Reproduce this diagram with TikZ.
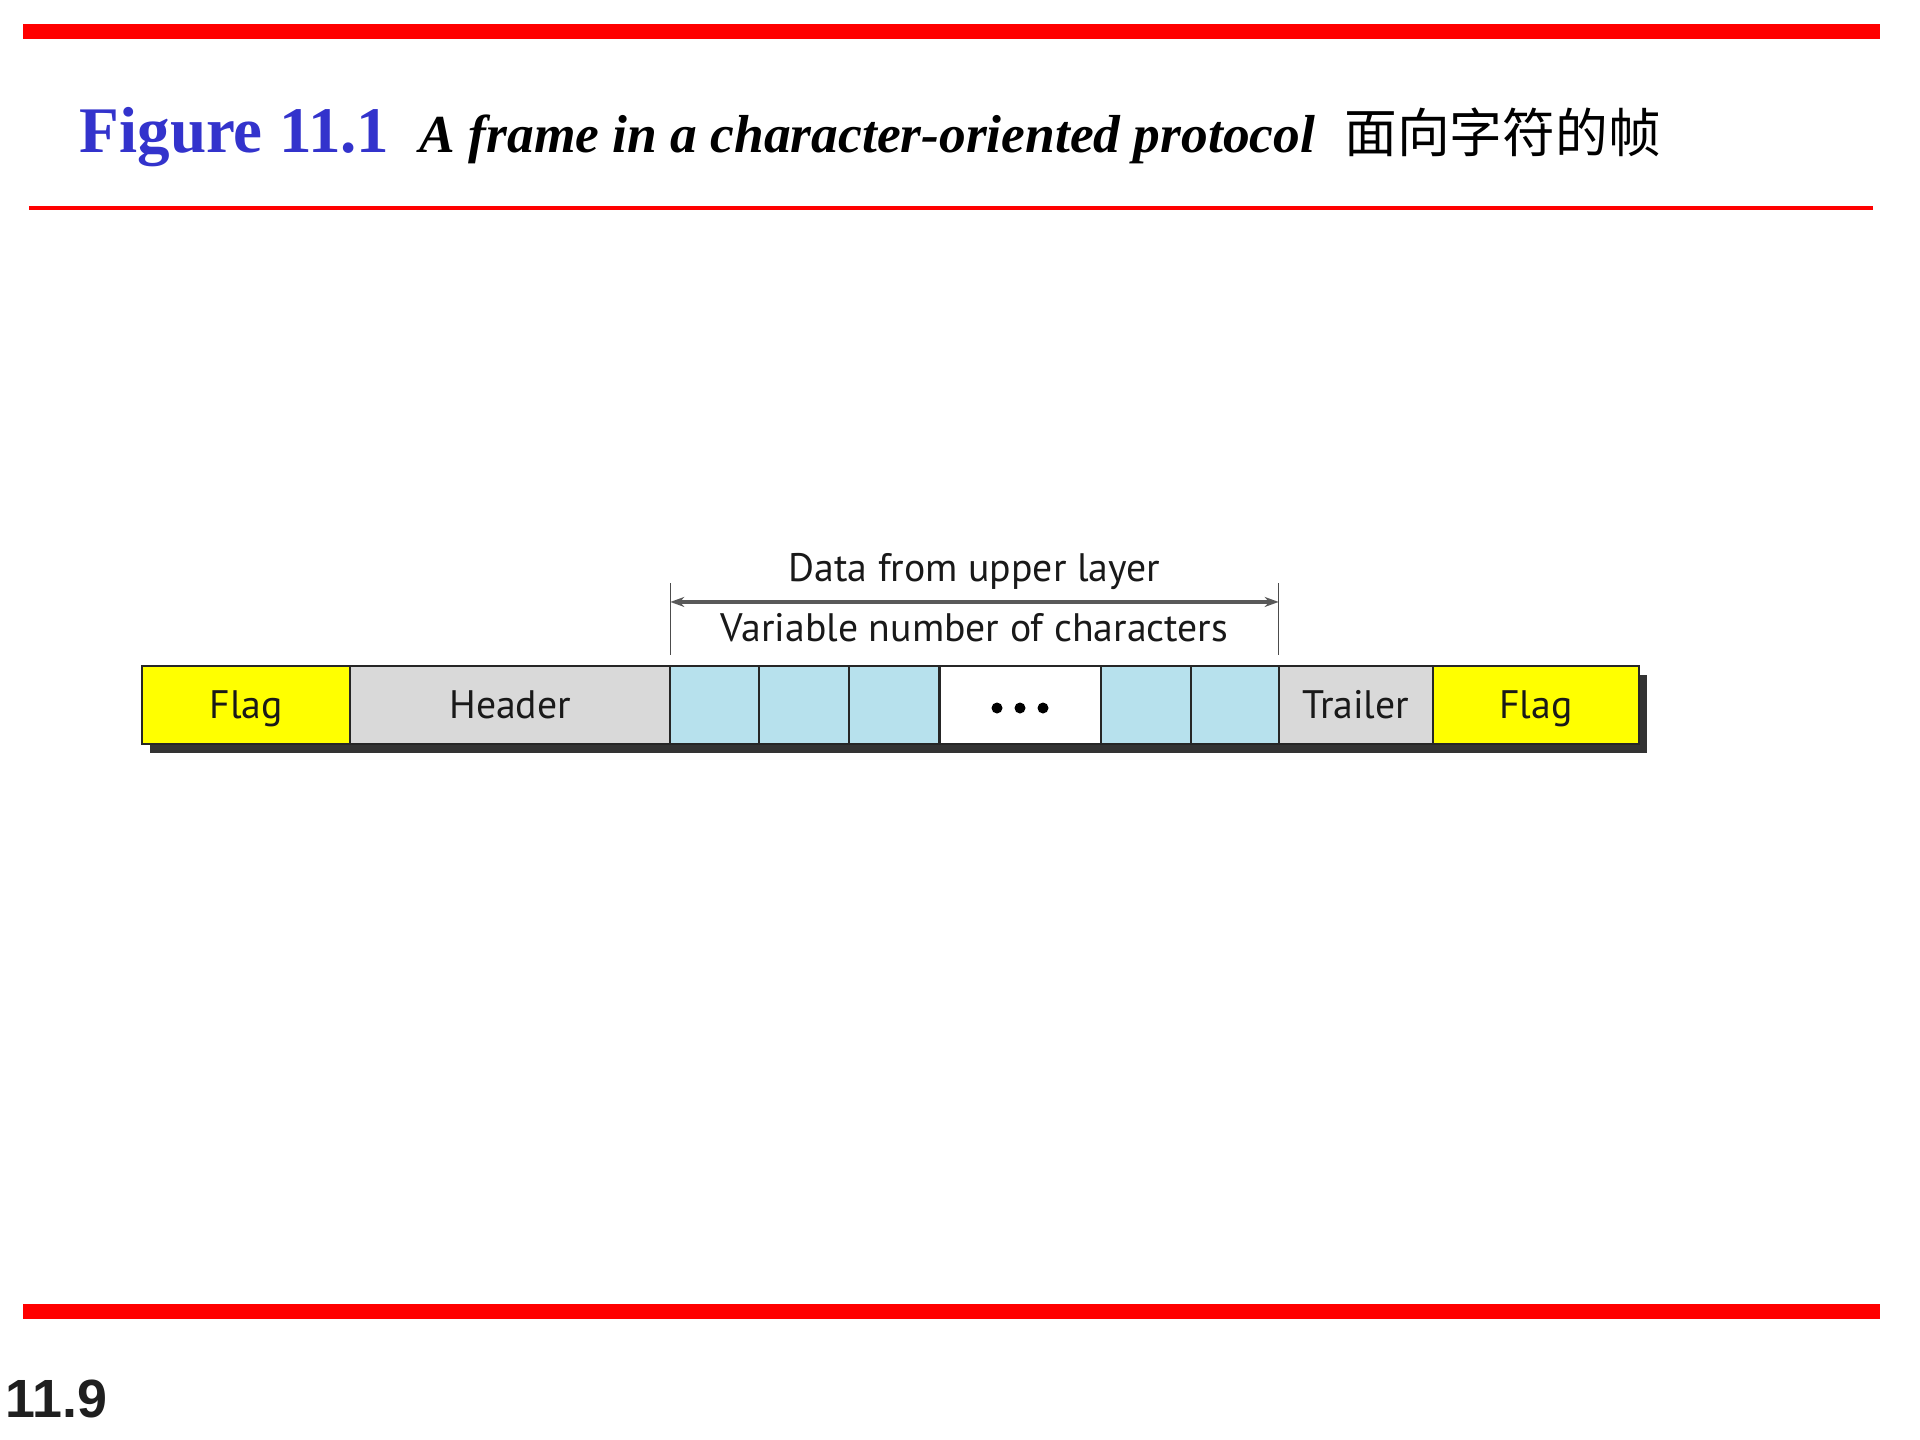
\documentclass[tikz,border=0pt]{standalone}
\usepackage{fontspec}
\setmainfont{Liberation Serif}
\newfontfamily\fieldfont{PT Sans}
\newfontfamily\cjkfont{Noto Sans CJK SC}
\newfontfamily\pagefont{Liberation Sans}
\usetikzlibrary{arrows.meta, positioning, shadows}

\definecolor{slidered}{RGB}{255,0,0}
\definecolor{figblue}{RGB}{51,51,204}
\definecolor{flagyellow}{RGB}{255,255,0}
\definecolor{hdrgray}{RGB}{217,217,217}
\definecolor{charblue}{RGB}{183,225,237}
\definecolor{shadowgray}{RGB}{51,51,51}

\begin{document}
\begin{tikzpicture}[
            x = 0.01cm, y = -0.01cm, % one unit is one pixel, counted from the top
            > = {Stealth[length = 0.14cm, width = 0.10cm]}, % arrow head style
            field/.style = {
                draw = black!85, line width = 0.6pt,
                inner sep = 0pt, outer sep = 0pt,
                minimum height = 0.78cm, text height = 0.27cm, text depth = 0pt,
                font = \fieldfont\fontsize{11.3}{13}\selectfont, text = black!90,
                drop shadow = {shadow xshift = 0.08cm, shadow yshift = -0.09cm,
                    fill = shadowgray, opacity = 1}
            },
            tick/.style = {draw = black!70, line width = 0.45pt},
            span/.style = {draw = black!65, line width = 0.9pt},
            caption/.style = {font = \fieldfont\fontsize{11.3}{13}\selectfont,
                inner sep = 0pt, text = black!90}
        ]

        \useasboundingbox (0,0) rectangle (1920,1440);

        % slide rules
        \fill[slidered] (23,24) rectangle (1880,39);
        \fill[slidered] (29,206) rectangle (1873,210);
        \fill[slidered] (23,1304) rectangle (1880,1319);

        % title
        \node[anchor = base west, inner sep = 0pt, text = figblue,
            font = \bfseries\fontsize{18.5}{21}\selectfont] (fignum) at (79,153) {Figure 11.1};
        \node[base right = 0.29cm of fignum, inner sep = 0pt,
            font = \bfseries\itshape\fontsize{15.2}{18}\selectfont] (figtitle)
            {A frame in a character-oriented protocol};
        \node[base right = 0.28cm of figtitle, inner sep = 0pt,
            font = \cjkfont\fontsize{15}{18}\selectfont] (figcjk) {面向字符的帧};

        % the frame
        \node[field, fill = flagyellow, minimum width = 2.08cm, anchor = north west]
            (flagA) at (142,666) {Flag};
        \node[field, fill = hdrgray, minimum width = 3.20cm, right = 0pt of flagA] (header) {Header};
        \node[field, fill = charblue, minimum width = 0.89cm, right = 0pt of header] (c1) {};
        \node[field, fill = charblue, minimum width = 0.90cm, right = 0pt of c1] (c2) {};
        \node[field, fill = charblue, minimum width = 0.90cm, right = 0pt of c2] (c3) {};
        \node[field, fill = white, minimum width = 1.61cm, right = 0pt of c3] (dots) {};
        \node[field, fill = charblue, minimum width = 0.90cm, right = 0pt of dots] (c4) {};
        \node[field, fill = charblue, minimum width = 0.88cm, right = 0pt of c4] (c5) {};
        \node[field, fill = hdrgray, minimum width = 1.54cm, right = 0pt of c5] (trailer) {Trailer};
        \node[field, fill = flagyellow, minimum width = 2.06cm, right = 0pt of trailer] (flagB) {Flag};

        \foreach \dx in {-23, 0, 23}
            \fill[black] ([xshift = \dx*0.01cm, yshift = -0.03cm]dots.center) circle (0.055cm);

        % data span
        \coordinate (dataL) at ([yshift = 0.11cm]c1.north west);
        \coordinate (dataR) at ([yshift = 0.11cm]c5.north east);
        \draw[tick] (dataL) -- ++(0,-72);
        \draw[tick] (dataR) -- ++(0,-72);
        \draw[<->, span] ([yshift = 0.53cm]dataL) --
            node[caption, midway, anchor = base, yshift = 0.20cm] (upper) {Data from upper layer}
            node[caption, midway, anchor = base, yshift = -0.40cm] (varnum) {Variable number of characters}
            ([yshift = 0.53cm]dataR);

        % page number
        \node[anchor = base west, inner sep = 0pt, text = black!88,
            font = \pagefont\bfseries\fontsize{15.3}{18}\selectfont] (pageno) at (5,1418) {11.9};

    \end{tikzpicture}
\end{document}
